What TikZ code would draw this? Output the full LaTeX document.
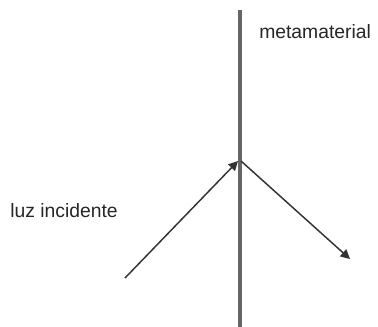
\documentclass[tikz,border=0pt]{standalone}
\usepackage{fontspec}
\setmainfont{Liberation Sans}
\usetikzlibrary{arrows.meta}
\begin{document}
\begin{tikzpicture}[x=0.75pt,y=-0.75pt,
  barline/.style={draw=black!60,line width=3pt},
  ray/.style={draw=black!80,line width=1.1pt,-{Triangle[width=7pt,length=7pt]}},
  lbl/.style={font=\fontsize{14.5}{16}\selectfont,text=black!85,inner sep=0pt}]
\useasboundingbox (0,0) rectangle (378,327);
\coordinate (top) at (240,10);
\coordinate (bot) at (240,327);
\coordinate (src) at (125,278);
\coordinate (hit) at (238,161);
\coordinate (out) at (241,161);
\coordinate (end) at (350,259);
\draw[barline] (top) -- (bot);
\draw[ray] (src) -- (hit);
\draw[ray] (out) -- (end);
\node[lbl,anchor=west] (meta) at (259,32) {metamaterial};
\node[lbl,anchor=west] (luz) at (10,211) {luz incidente};
\end{tikzpicture}
\end{document}
